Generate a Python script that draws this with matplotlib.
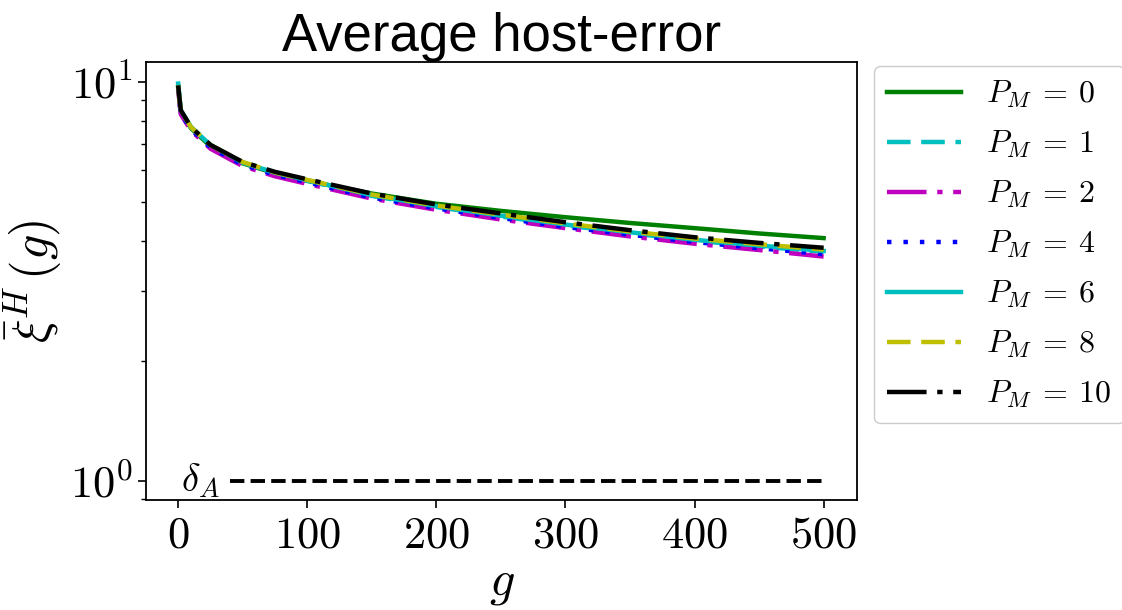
import matplotlib
matplotlib.use("Agg")
import matplotlib.pyplot as plt
from matplotlib.ticker import NullFormatter, LogLocator
import numpy as np

plt.rcParams['mathtext.fontset'] = 'cm'
plt.rcParams['font.family'] = ['DejaVu Sans']

# Average host-error vs generation
g = [0, 2, 10, 25, 50, 75, 100, 150, 200, 250, 300, 350, 400, 450, 500]

err_p0 = [9.70, 8.40, 7.65, 6.90, 6.25, 5.90, 5.65, 5.25, 4.95, 4.75, 4.58, 4.43, 4.30, 4.17, 4.06]
err_p1 = [9.90, 8.50, 7.70, 6.95, 6.28, 5.90, 5.65, 5.18, 4.86, 4.60, 4.37, 4.18, 4.00, 3.87, 3.75]
err_p2 = [9.60, 8.30, 7.55, 6.80, 6.15, 5.80, 5.55, 5.10, 4.78, 4.52, 4.30, 4.10, 3.93, 3.79, 3.65]
err_p4 = [9.65, 8.35, 7.60, 6.85, 6.20, 5.85, 5.60, 5.13, 4.82, 4.56, 4.33, 4.14, 3.97, 3.83, 3.70]
err_p6 = [9.90, 8.50, 7.70, 6.95, 6.28, 5.92, 5.67, 5.20, 4.88, 4.62, 4.39, 4.20, 4.02, 3.89, 3.77]
err_p8 = [9.80, 8.45, 7.70, 6.95, 6.30, 5.93, 5.68, 5.22, 4.90, 4.65, 4.42, 4.22, 4.05, 3.92, 3.80]
err_p10 = [9.80, 8.50, 7.70, 6.95, 6.30, 5.95, 5.70, 5.25, 4.93, 4.68, 4.45, 4.25, 4.08, 3.95, 3.84]

p_m = [0, 1, 2, 4, 6, 8, 10]
series = [err_p0, err_p1, err_p2, err_p4, err_p6, err_p8, err_p10]

delta_a = 1.0
delta_start, delta_end = 40, 500

xticks = [0, 100, 200, 300, 400, 500]

colors = ['g', 'c', 'm', 'b', 'c', 'y', 'k']
styles = ['-', (0, (5.3, 2.4)), (0, (8.9, 2.4, 1.2, 2.4)), (0, (1, 2.7)),
          '-', (0, (5.3, 2.4)), (0, (8.9, 2.4, 1.2, 2.4))]

fig = plt.figure(figsize=(11.22, 6.10), dpi=100)
ax = fig.add_axes([0.130, 0.180, 0.634, 0.718])

for vals, pm, c, ls in zip(series, p_m, colors, styles):
    ax.plot(g, vals, color=c, linestyle=ls, linewidth=3.2,
            label=r'$P_M\:=\:%d$' % pm)

ax.plot([delta_start, delta_end], [delta_a, delta_a], color='k', linestyle='--', linewidth=2.8)
ax.text(17, delta_a, r'$\delta_A$', ha='center', va='center', fontsize=28)

ax.set_yscale('log')
ax.set_xlim(-25, 526)
ax.set_ylim(0.895, 11.2)

ax.set_xticks(xticks)
ax.set_xticklabels([r'$%d$' % v for v in xticks], fontsize=32)
ax.set_yticks([1, 10])
ax.set_yticklabels([r'$10^0$', r'$10^1$'], fontsize=32)
ax.yaxis.set_minor_locator(LogLocator(base=10, subs=np.arange(2, 10)))
ax.yaxis.set_minor_formatter(NullFormatter())

ax.tick_params(which='major', length=6, width=1.2)
ax.tick_params(which='minor', length=3.5, width=1.0)
for sp in ax.spines.values():
    sp.set_linewidth(1.3)

ax.set_xlabel(r'$g$', fontsize=36, labelpad=2)
ax.set_ylabel(r'$\bar{\xi}^H\,(g)$', fontsize=36, labelpad=4)
ax.set_title('Average host-error', fontsize=38, family='Liberation Sans', pad=5)

leg = ax.legend(loc='upper left', bbox_to_anchor=(1.024, 0.991), borderaxespad=0,
                fontsize=23, handlelength=2.3, labelspacing=0.58,
                framealpha=1, edgecolor='#cccccc')

fig.savefig('out.png', dpi=100)
